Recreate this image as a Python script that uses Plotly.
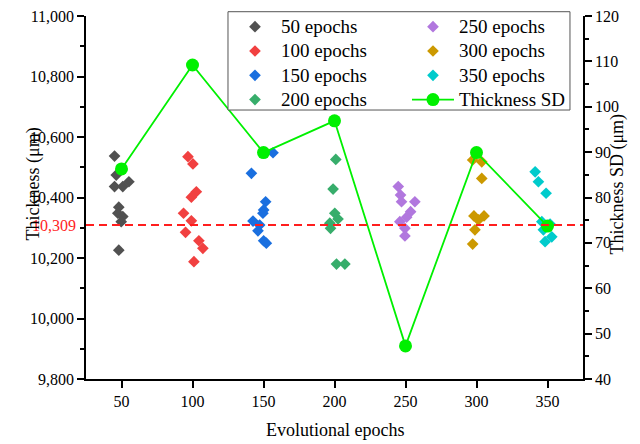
import plotly.graph_objects as go

# Evolutional epochs (x positions of the groups and of the SD curve)
epochs = [50, 100, 150, 200, 250, 300, 350]
group_labels = ["50 epochs", "100 epochs", "150 epochs", "200 epochs",
                "250 epochs", "300 epochs", "350 epochs"]

# Individual thickness samples per group (x = jittered epoch, t = thickness in µm)
x_50 = [45.1, 46.3, 45.1, 50.9, 55.2, 48.1, 47.4, 50.9, 49.8, 48.1]
t_50 = [10537, 10474, 10436, 10436, 10452, 10368, 10348, 10337, 10320, 10226]

x_100 = [96.8, 100.3, 102.7, 99.2, 93.7, 99.2, 95.1, 104.5, 107.3, 101.0]
t_100 = [10535, 10511, 10419, 10401, 10348, 10323, 10285, 10257, 10232, 10188]

x_150 = [156.7, 141.5, 151.5, 150.1, 149.6, 142.6, 147.3, 146.1, 150.1, 152.0]
t_150 = [10548, 10480, 10386, 10359, 10348, 10322, 10309, 10290, 10257, 10249]

x_200 = [200.9, 199.0, 200.2, 202.5, 196.7, 197.2, 201.4, 207.3]
t_200 = [10526, 10428, 10348, 10329, 10315, 10298, 10180, 10180]

x_250 = [244.9, 246.5, 247.2, 256.6, 253.6, 250.8, 246.0, 249.6, 249.6]
t_250 = [10436, 10408, 10386, 10386, 10353, 10335, 10320, 10298, 10273]

x_300 = [297.3, 303.7, 303.7, 298.2, 305.3, 301.3, 298.9, 297.3]
t_300 = [10524, 10518, 10463, 10339, 10339, 10326, 10293, 10246]

x_350 = [341.3, 343.6, 349.0, 346.0, 351.8, 347.1, 353.0, 348.3]
t_350 = [10485, 10452, 10414, 10320, 10312, 10293, 10270, 10254]

# Standard deviation of thickness per epoch group (µm)
thickness_sd = [86.3, 109.2, 89.9, 96.9, 47.3, 89.9, 73.7]

# Overall mean thickness (µm)
mean_thickness = 10309

group_x = [x_50, x_100, x_150, x_200, x_250, x_300, x_350]
group_t = [t_50, t_100, t_150, t_200, t_250, t_300, t_350]
group_colors = ["#515151", "#F14040", "#1A6FDF", "#37AD6B",
                "#B177DE", "#CC9900", "#00CBCC"]
# legend is filled row by row, so rank entries to read column by column
legend_ranks = [1, 3, 5, 7, 2, 4, 6]

FONT = "Liberation Serif"
SD_GREEN = "#00F000"


def legend_text(label):
    # larger glyphs than the legend's base size, which sets the row pitch
    return f'<span style="font-size:19px">{label}</span>'


fig = go.Figure()

for label, xs, ts, color, rank in zip(group_labels, group_x, group_t,
                                      group_colors, legend_ranks):
    fig.add_trace(go.Scatter(
        x=xs, y=ts, mode="markers", name=legend_text(label), legendrank=rank,
        marker=dict(symbol="diamond", size=9, color=color, line=dict(width=0)),
    ))

fig.add_trace(go.Scatter(
    x=epochs, y=thickness_sd, yaxis="y2", mode="lines+markers",
    name=legend_text("Thickness SD"), legendrank=8,
    line=dict(color=SD_GREEN, width=1.8),
    marker=dict(symbol="circle", size=13, color=SD_GREEN),
))

# mean thickness reference line and its red label on the left axis
fig.add_shape(type="line", xref="paper", x0=0, x1=1, yref="y",
              y0=mean_thickness, y1=mean_thickness, layer="above",
              line=dict(color="#FF1E1E", width=2, dash="8px,5px"))
fig.add_annotation(x=0, xref="paper", xanchor="right", xshift=-8,
                   y=mean_thickness, yref="y", yanchor="middle",
                   text=f"{mean_thickness:,}", showarrow=False,
                   font=dict(family=FONT, size=16, color="#FF1E1E"))

# framed white panel behind the legend entries
fig.add_shape(type="rect", xref="paper", yref="paper",
              x0=0.2857, x1=0.9738, y0=0.741, y1=1.0118, layer="above",
              fillcolor="white", line=dict(color="#555555", width=1))

# axis titles
fig.add_annotation(x=-0.131, xref="paper", y=0.537, yref="paper",
                   text="Thickness (μm)", textangle=-90, showarrow=False,
                   font=dict(family=FONT, size=18, color="black"))
fig.add_annotation(x=1.0946, xref="paper", y=0.537, yref="paper",
                   text="Thickness SD (μm)", textangle=-90, showarrow=False,
                   font=dict(family=FONT, size=18, color="black"))
fig.add_annotation(x=0.5, xref="paper", y=-0.1405, yref="paper",
                   yanchor="middle", text="Evolutional epochs",
                   showarrow=False,
                   font=dict(family=FONT, size=18, color="black"))

axis_common = dict(
    showline=True, linecolor="black", linewidth=1.5,
    ticks="outside", ticklen=7, tickwidth=1.5, tickcolor="black",
    showgrid=False, zeroline=False,
    tickfont=dict(family=FONT, size=16, color="black"),
)

fig.update_layout(
    width=640, height=444,
    margin=dict(l=86, r=57, t=16, b=65, autoexpand=False),
    paper_bgcolor="white", plot_bgcolor="white",
    font=dict(family=FONT, size=16, color="black"),
    xaxis=dict(range=[25, 375], tickvals=epochs, **axis_common),
    yaxis=dict(range=[9800, 11000], tick0=9800, dtick=200, tickformat=",",
               minor=dict(dtick=100, ticks="outside", ticklen=4,
                          tickwidth=1.5, tickcolor="black", showgrid=False),
               **axis_common),
    yaxis2=dict(range=[40, 120], tick0=40, dtick=10, overlaying="y",
                side="right",
                minor=dict(dtick=5, ticks="outside", ticklen=4,
                           tickwidth=1.5, tickcolor="black", showgrid=False),
                **axis_common),
    showlegend=True,
    legend=dict(
        orientation="h", x=0.2877, xanchor="left", y=1.0179, yanchor="top",
        entrywidth=121, entrywidthmode="pixels", itemwidth=42,
        bgcolor="rgba(0,0,0,0)", borderwidth=0,
        font=dict(family=FONT, size=16.4, color="black"),
        traceorder="normal",
    ),
)

fig.write_html("out.html")
